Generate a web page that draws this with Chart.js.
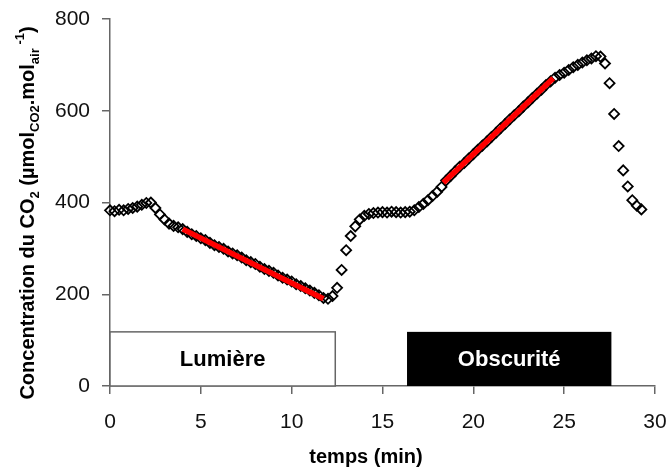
<!DOCTYPE html>
<html>
<head>
<meta charset="utf-8">
<script src="https://cdn.jsdelivr.net/npm/chart.js@4"></script>
<style>
  body { margin: 0; background: #fff; }
  #wrap { width: 669px; height: 476px; }
</style>
</head>
<body>
<div id="wrap"><canvas id="plot"></canvas></div>
<script>
// mesures toutes les 15 s
const temps = [
  0, 0.25, 0.5, 0.75, 1, 1.25, 1.5, 1.75, 2, 2.25, 2.5, 2.75, 3, 3.25, 3.5, 3.75,
  4, 4.25, 4.5, 4.75, 5, 5.25, 5.5, 5.75, 6, 6.25, 6.5, 6.75, 7, 7.25, 7.5, 7.75,
  8, 8.25, 8.5, 8.75, 9, 9.25, 9.5, 9.75, 10, 10.25, 10.5, 10.75, 11, 11.25, 11.5, 11.75,
  12, 12.25, 12.5, 12.75, 13, 13.25, 13.5, 13.75, 14, 14.25, 14.5, 14.75, 15, 15.25, 15.5, 15.75,
  16, 16.25, 16.5, 16.75, 17, 17.25, 17.5, 17.75, 18, 18.25, 18.5, 18.75, 19, 19.25, 19.5, 19.75,
  20, 20.25, 20.5, 20.75, 21, 21.25, 21.5, 21.75, 22, 22.25, 22.5, 22.75, 23, 23.25, 23.5, 23.75,
  24, 24.25, 24.5, 24.75, 25, 25.25, 25.5, 25.75, 26, 26.25, 26.5, 26.75, 27, 27.25, 27.5, 27.75,
  28, 28.25, 28.5, 28.75, 29, 29.25
];
const co2 = [
  383, 381, 384, 383, 386, 388, 391, 395, 399, 400, 388, 374, 363, 354, 349, 346,
  342, 336, 331, 327, 322, 318, 312, 307, 303, 299, 293, 289, 285, 280, 274, 270,
  266, 260, 255, 251, 247, 241, 236, 232, 228, 222, 218, 213, 208, 203, 198, 192,
  190, 196, 214, 253, 296, 327, 348, 363, 371, 375, 377, 378, 379, 378, 380, 379,
  378, 379, 380, 383, 390, 397, 405, 414, 423, 434, 448, 458, 468, 478, 486, 496,
  505, 515, 524, 533, 543, 552, 562, 571, 581, 590, 599, 609, 618, 628, 637, 646,
  656, 664, 672, 678, 683, 689, 695, 700, 705, 710, 714, 719, 718, 703, 660, 593,
  523, 470, 435, 405, 393, 385
];

// droites de régression (lumière puis obscurité)
const fitLumX = [4, 11.75];
const fitLumY = [342, 190];
const fitObsX = [18.35, 24.4];
const fitObsY = [443, 671];

// bandeaux des phases
const phaseLabels = ['Lumière', 'Obscurité'];
const phaseStart = [0, 16.35];
const phaseEnd = [12.4, 27.6];
const phaseTop = 118;

const xTicks = [0, 5, 10, 15, 20, 25, 30];
const yTicks = [0, 200, 400, 600, 800];

const pts = temps.map((t, i) => ({ x: t, y: co2[i] }));
const fit1 = fitLumX.map((x, i) => ({ x: x, y: fitLumY[i] }));
const fit2 = fitObsX.map((x, i) => ({ x: x, y: fitObsY[i] }));

const phases = {
  id: 'phases',
  beforeDatasetsDraw(chart) {
    const { ctx, scales: { x, y } } = chart;
    ctx.save();
    phaseLabels.forEach((lab, i) => {
      const x0 = x.getPixelForValue(phaseStart[i]);
      const x1 = x.getPixelForValue(phaseEnd[i]);
      const y0 = y.getPixelForValue(phaseTop);
      const y1 = y.getPixelForValue(0);
      const dark = i === 1;
      ctx.fillStyle = dark ? '#000' : '#fff';
      ctx.fillRect(x0, y0, x1 - x0, y1 - y0);
      if (!dark) {
        ctx.strokeStyle = '#666';
        ctx.lineWidth = 1.5;
        ctx.strokeRect(x0, y0, x1 - x0, y1 - y0);
      }
      ctx.fillStyle = dark ? '#fff' : '#000';
      ctx.font = 'bold 22px "Liberation Sans", Arial, sans-serif';
      ctx.textAlign = 'center';
      ctx.textBaseline = 'middle';
      ctx.fillText(lab, (x0 + x1) / 2, (y0 + y1) / 2 + 1);
    });
    ctx.restore();
  }
};

// titres d'axes (indices et exposant dessinés à la main)
const titres = {
  id: 'titres',
  afterDraw(chart) {
    const ctx = chart.ctx;
    ctx.save();
    ctx.fillStyle = '#000';
    ctx.font = 'bold 20px "Liberation Sans", Arial, sans-serif';
    ctx.textAlign = 'center';
    ctx.textBaseline = 'alphabetic';
    ctx.fillText('temps (min)', 366, 463);

    const big = 'bold 20px "Liberation Sans", Arial, sans-serif';
    const small = 'bold 13px "Liberation Sans", Arial, sans-serif';
    const parts = [
      ['Concentration du CO', big, 0],
      ['2', small, 5],
      [' (µmol', big, 0],
      ['CO2', small, 5],
      ['.mol', big, 0],
      ['air', small, 5],
      [' -1', small, -10],
      [')', big, 0]
    ];
    let total = 0;
    parts.forEach(p => { ctx.font = p[1]; total += ctx.measureText(p[0]).width; });
    ctx.translate(34, 213);
    ctx.rotate(-Math.PI / 2);
    ctx.textAlign = 'left';
    let pos = -total / 2;
    parts.forEach(p => {
      ctx.font = p[1];
      ctx.fillText(p[0], pos, p[2]);
      pos += ctx.measureText(p[0]).width;
    });
    ctx.restore();
  }
};

const ctx = document.getElementById('plot').getContext('2d');
const myChart = new Chart(ctx, {
  type: 'scatter',
  data: {
    datasets: [
      {
        data: fit1, showLine: true, borderColor: '#ff0000', borderWidth: 5.5,
        pointRadius: 0, order: 0, borderCapStyle: 'butt'
      },
      {
        data: fit2, showLine: true, borderColor: '#ff0000', borderWidth: 5.5,
        pointRadius: 0, order: 0, borderCapStyle: 'butt'
      },
      {
        data: pts, pointStyle: 'rectRot', pointRadius: 5, borderWidth: 1.8,
        borderColor: '#000', backgroundColor: 'rgba(0,0,0,0)', order: 1, clip: false
      }
    ]
  },
  options: {
    responsive: true,
    maintainAspectRatio: false,
    animation: false,
    layout: { padding: { top: 19, right: 14, left: 0, bottom: 0 } },
    plugins: { legend: { display: false }, tooltip: { enabled: false } },
    scales: {
      x: {
        type: 'linear', min: 0, max: 30,
        afterBuildTicks: s => { s.ticks = xTicks.map(v => ({ value: v })); },
        afterFit: s => { s.height = 90; s.paddingLeft = 0; s.paddingRight = 0; },
        ticks: { color: '#111', padding: 16, font: { size: 21, family: '"Liberation Sans", Arial' } },
        grid: { drawOnChartArea: false, drawTicks: true, tickLength: 8, color: '#666', lineWidth: 1.5 },
        border: { color: '#666', width: 1.5 }
      },
      y: {
        min: 0, max: 800,
        afterBuildTicks: s => { s.ticks = yTicks.map(v => ({ value: v })); },
        afterFit: s => { s.width = 110; s.paddingTop = 0; s.paddingBottom = 0; },
        ticks: { color: '#111', padding: 12, font: { size: 21, family: '"Liberation Sans", Arial' } },
        grid: { drawOnChartArea: false, drawTicks: true, tickLength: 8, color: '#666', lineWidth: 1.5 },
        border: { color: '#666', width: 1.5 }
      }
    }
  },
  plugins: [phases, titres]
});
</script>
</body>
</html>
